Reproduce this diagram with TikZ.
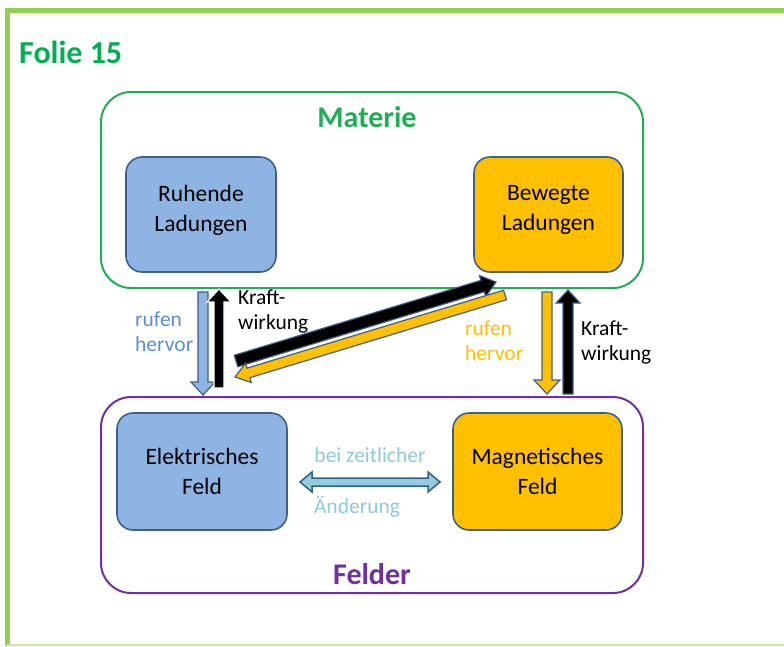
\documentclass[tikz,border=0pt]{standalone}
\usepackage{fontspec}
\setmainfont{Carlito}
\usetikzlibrary{calc}
\definecolor{framegreen}{HTML}{92D050}
\definecolor{titlegreen}{HTML}{00B050}
\definecolor{matgreen}{HTML}{1FAE55}
\definecolor{felpurple}{HTML}{7030A0}
\definecolor{boxblue}{HTML}{8EB4E3}
\definecolor{boxedge}{HTML}{3E5F8A}
\definecolor{boxyellow}{HTML}{FFC000}
\definecolor{txtblue}{HTML}{5B8FD0}
\definecolor{lightblue}{HTML}{93CDDD}
\definecolor{lighttxt}{HTML}{8EC9DC}
\definecolor{arrowedge}{HTML}{31608F}
\newcommand\blockarr[7]{% from, to, fill, draw, shaft half, head half, head length
  \filldraw[fill=#3, draw=#4, line width=1.2pt, line join=miter]
    ($(#1)!#5!90:(#2)$) -- ($($(#2)!#7!(#1)$)!#5!90:(#2)$)
    -- ($($(#2)!#7!(#1)$)!#6!90:(#2)$) -- (#2)
    -- ($($(#2)!#7!(#1)$)!#6!-90:(#2)$) -- ($($(#2)!#7!(#1)$)!#5!-90:(#2)$)
    -- ($(#1)!#5!-90:(#2)$) -- cycle;}
\tikzset{
  bigbox/.style={draw, line width=2pt, rounded corners=30pt},
  inbox/.style={draw=boxedge, line width=1.6pt, rounded corners=16pt, align=center,
    font=\fontsize{23.5}{30}\selectfont, text=black},
  lbl/.style={align=left, font=\fontsize{21.5}{25}\selectfont, anchor=north west, inner sep=0pt},
  hdr/.style={font=\fontsize{30}{34}\selectfont\bfseries, inner sep=0pt},
}
\begin{document}
\begin{tikzpicture}[x=1pt,y=-1pt]
\useasboundingbox (0,0) rectangle (784,646);
% frame
\draw[framegreen, line width=5pt] (5,10) -- (784,10);
\draw[framegreen, line width=5pt] (7,8) -- (7,646);
\draw[framegreen!50, line width=2pt] (7,645) -- (784,645);
\node[anchor=west, text=titlegreen, font=\fontsize{32}{34}\selectfont\bfseries, inner sep=0pt] (title) at (19,52) {Folie 15};
% big boxes
\draw[bigbox, draw=matgreen] (101,92) rectangle (643,288);
\node[hdr, text=matgreen] (materie) at (367,117) {Materie};
\draw[bigbox, draw=felpurple] (101,397) rectangle (643,593);
\node[hdr, text=felpurple] (felder) at (372,574) {Felder};
% inner boxes
\node[inbox, fill=boxblue, minimum width=150pt, minimum height=115pt] (ruh) at (201,214.5) {};
\node[align=center, font=\fontsize{23.5}{30}\selectfont] (ruht) at (201,210) {Ruhende\\Ladungen};
\node[inbox, fill=boxyellow, minimum width=149pt, minimum height=115pt] (bew) at (548.5,214.5) {};
\node[align=center, font=\fontsize{23.5}{30}\selectfont] (bewt) at (548.5,210) {Bewegte\\Ladungen};
\node[inbox, fill=boxblue, minimum width=170pt, minimum height=117pt] (ele) at (202,471.5) {Elektrisches\\Feld};
\node[inbox, fill=boxyellow, minimum width=169pt, minimum height=117pt] (mag) at (537.5,471.5) {Magnetisches\\Feld};
% coordinates for arrows
\coordinate (lb1) at (203,292);
\coordinate (lb2) at (203,395);
\coordinate (lk1) at (219,388);
\coordinate (lk2) at (219,289);
\coordinate (rb1) at (547,292);
\coordinate (rb2) at (547,394);
\coordinate (rk1) at (568,394);
\coordinate (rk2) at (568,290);
\coordinate (dk1) at (236,361);
\coordinate (dk2) at (496,282);
\coordinate (dy1) at (505,295);
\coordinate (dy2) at (235,377);
% arrows
\blockarr{lb1}{lb2}{boxblue}{boxedge}{5pt}{12pt}{13pt}
\blockarr{lk1}{lk2}{black}{white}{5pt}{12pt}{13pt}
\blockarr{rb1}{rb2}{boxyellow}{boxedge}{5pt}{13pt}{14pt}
\blockarr{rk1}{rk2}{black}{boxedge}{5pt}{12pt}{13pt}
\blockarr{dk1}{dk2}{black}{boxedge}{6pt}{11pt}{14pt}
\blockarr{dy1}{dy2}{boxyellow}{boxedge}{5pt}{10pt}{14pt}
% double arrow
\coordinate (h1) at (300,482);
\coordinate (h2) at (440,482);
\filldraw[fill=lightblue, draw=arrowedge, line width=1.5pt, line join=miter]
  (h1) -- (312,472) -- (312,478) -- (428,478) -- (428,472) -- (h2)
  -- (428,492) -- (428,486) -- (312,486) -- (312,492) -- cycle;
% labels
\node[lbl, text=txtblue] (lrh) at (135,312) {rufen\\hervor};
\node[lbl, text=black] (lkw) at (238,290) {Kraft-\\wirkung};
\node[lbl, text=boxyellow] (rrh) at (465,321) {rufen\\hervor};
\node[lbl, text=black] (rkw) at (581,321) {Kraft-\\wirkung};
\node[text=lighttxt, font=\fontsize{21.5}{25}\selectfont, inner sep=0pt] (bz) at (370,455) {bei zeitlicher};
\node[text=lighttxt, font=\fontsize{21.5}{25}\selectfont, inner sep=0pt] (aen) at (357,507) {Änderung};
\end{tikzpicture}
\end{document}
